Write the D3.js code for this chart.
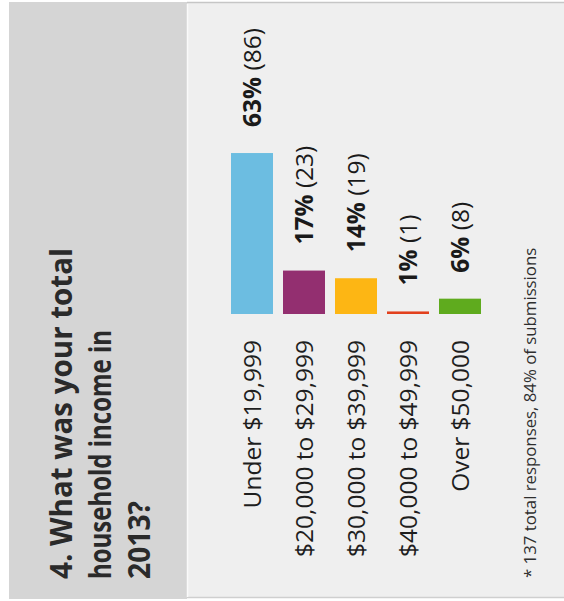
<!DOCTYPE html>
<html>
<head>
<meta charset="utf-8">
<script src="https://cdn.jsdelivr.net/npm/d3@7"></script>
<style>
  html, body { margin: 0; padding: 0; background: #ffffff; }
  svg { display: block; }
  text { font-family: "Open Sans", "Noto Sans", sans-serif; }
</style>
</head>
<body>
<svg id="chart" width="564" height="601"></svg>
<script>
// Survey answers: household income in 2013
const categories = ["Under $19,999", "$20,000 to $29,999", "$30,000 to $39,999", "$40,000 to $49,999", "Over $50,000"];
const percents = [63, 17, 14, 1, 6];
const counts = [86, 23, 19, 1, 8];
const colors = ["#6cbde1", "#932f70", "#fdb614", "#e2401d", "#5fab1e"];
const titleLines = ["4. What was your total", "household income in", "2013?"];
const footnote = "* 137 total responses, 84% of submissions";

const W = 564, H = 601;
const svg = d3.select("#chart");

// Page panels: grey title strip and light chart area
svg.append("rect").attr("x", 0).attr("y", 0).attr("width", W).attr("height", H).attr("fill", "#ffffff");
svg.append("rect").attr("x", 9).attr("y", 2).attr("width", 178).attr("height", 597).attr("fill", "#d5d5d5");
svg.append("rect").attr("x", 187).attr("y", 2).attr("width", W - 187).attr("height", 596).attr("fill", "#efefef");
svg.append("line").attr("x1", 187).attr("x2", W).attr("y1", 2.5).attr("y2", 2.5).attr("stroke", "#c6c6c6").attr("stroke-width", 1.5);
svg.append("line").attr("x1", 187).attr("x2", W).attr("y1", 597.5).attr("y2", 597.5).attr("stroke", "#cfcfcf").attr("stroke-width", 1.5);
svg.append("line").attr("x1", 187.5).attr("x2", 187.5).attr("y1", 4).attr("y2", 597).attr("stroke", "#fafafa").attr("stroke-width", 1.5);

// The whole layout is turned a quarter turn: inside this group, text reads
// left to right and bars grow to the right.
const g = svg.append("g").attr("transform", `translate(0,${H}) rotate(-90)`);

// Title
g.append("g").selectAll("text")
  .data(titleLines)
  .join("text")
  .attr("x", 22)
  .attr("y", (d, i) => 72 + i * 39)
  .attr("font-size", 31)
  .attr("font-weight", 700)
  .attr("fill", "#2a2a2a")
  .attr("textLength", (d, i) => [331, 249, 78][i])
  .attr("lengthAdjust", "spacingAndGlyphs")
  .text(d => d);

const rows = categories.map((c, i) => ({ cat: c, pct: percents[i], n: counts[i], color: colors[i] }));

const y = d3.scaleBand().domain(categories).range([226, 486]).paddingInner(0.1923).paddingOuter(0.0962);
const x = d3.scaleLinear().domain([0, 100]).range([287, 287 + 255.5]);

// Bars
g.append("g").selectAll("rect")
  .data(rows)
  .join("rect")
  .attr("x", x(0))
  .attr("y", d => y(d.cat))
  .attr("width", d => x(d.pct) - x(0))
  .attr("height", y.bandwidth())
  .attr("fill", d => d.color);

// Category labels
const axis = d3.axisLeft(y).tickSize(0).tickPadding(0);
const axisG = g.append("g").attr("transform", `translate(261,0)`).call(axis);
axisG.select(".domain").remove();
axisG.selectAll("text")
  .attr("font-size", 24.5)
  .attr("fill", "#1e1e1e")
  .attr("font-family", "'Open Sans', 'Noto Sans', sans-serif")
  .attr("dy", "0.36em");

// Value labels: bold percentage followed by the response count
const vl = g.append("g").selectAll("text")
  .data(rows)
  .join("text")
  .attr("x", d => x(d.pct) + 26)
  .attr("y", d => y(d.cat) + y.bandwidth() / 2)
  .attr("dy", "0.36em")
  .attr("font-size", 24.5)
  .attr("fill", "#1a1a1a");
vl.append("tspan").attr("font-weight", 700).text(d => d.pct + "%");
vl.append("tspan").text(d => " (" + d.n + ")");

// Footnote
g.append("text")
  .attr("x", 23)
  .attr("y", 536)
  .attr("font-size", 16.8)
  .attr("fill", "#2e2e2e")
  .text(footnote);
</script>
</body>
</html>
